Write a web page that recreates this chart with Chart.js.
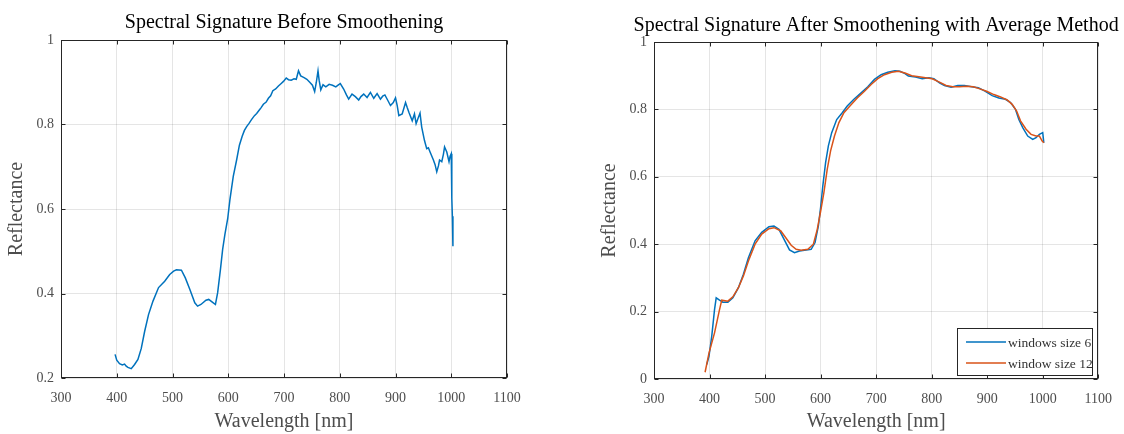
<!DOCTYPE html>
<html>
<head>
<meta charset="utf-8">
<title>Spectral Signature</title>
<script src="https://cdn.jsdelivr.net/npm/chart.js@4.4.0/dist/chart.umd.min.js"></script>
<style>
  body { margin: 0; background: #fff; }
  #wrap { position: relative; width: 1124px; height: 434px; }
  .cell { position: absolute; top: 0; height: 434px; }
</style>
</head>
<body>
<div id="wrap">
  <div class="cell" style="left:0;width:560px"><canvas id="before" width="560" height="434"></canvas></div>
  <div class="cell" style="left:560px;width:564px"><canvas id="after" width="564" height="434"></canvas></div>
</div>
<script>
  // raw spectrum
  const rawWl = [397, 400, 405, 410, 414, 417, 420, 426, 432, 438, 444, 450, 457, 465, 475, 486, 495, 502, 507, 516,
    523, 531, 540, 545, 551, 560, 565, 572, 577, 581, 586, 590, 594, 599, 603, 609, 615, 620, 625, 629,
    633, 637, 642, 647, 651, 655, 659, 663, 668, 672, 676, 680, 685, 690, 695, 699, 704, 708, 713, 718,
    722, 726, 730, 736, 741, 747, 751, 755, 758, 761, 763, 766, 770, 775, 781, 787, 793, 797, 801, 807,
    812, 816, 822, 828, 834, 838, 843, 849, 855, 861, 867, 873, 877, 881, 887, 891, 896, 900, 903, 906,
    912, 918, 921, 924, 930, 934, 937, 940, 944, 947, 952, 956, 959, 962, 968, 971, 974, 977, 979, 983,
    986, 988, 992, 996, 998, 1000, 1001, 1002, 1003];
  const rawRefl = [0.256, 0.242, 0.234, 0.231, 0.233, 0.228, 0.225, 0.222, 0.232, 0.244, 0.270, 0.310, 0.350, 0.382, 0.414, 0.429, 0.445, 0.453, 0.456, 0.455,
    0.437, 0.410, 0.378, 0.370, 0.374, 0.384, 0.386, 0.379, 0.374, 0.402, 0.457, 0.505, 0.540, 0.577, 0.622, 0.677, 0.716, 0.751, 0.772, 0.786,
    0.795, 0.802, 0.812, 0.821, 0.826, 0.833, 0.840, 0.848, 0.853, 0.862, 0.868, 0.880, 0.884, 0.891, 0.897, 0.902, 0.910, 0.906, 0.905, 0.908,
    0.907, 0.927, 0.915, 0.911, 0.907, 0.899, 0.893, 0.878, 0.900, 0.927, 0.905, 0.882, 0.894, 0.889, 0.895, 0.893, 0.889, 0.893, 0.897, 0.884,
    0.870, 0.860, 0.872, 0.866, 0.858, 0.866, 0.872, 0.864, 0.876, 0.862, 0.873, 0.860, 0.867, 0.870, 0.855, 0.845, 0.852, 0.863, 0.845, 0.821,
    0.825, 0.852, 0.840, 0.829, 0.809, 0.825, 0.802, 0.813, 0.827, 0.794, 0.762, 0.743, 0.745, 0.735, 0.716, 0.705, 0.688, 0.702, 0.716, 0.712,
    0.730, 0.747, 0.735, 0.712, 0.725, 0.731, 0.626, 0.583, 0.512];

  // moving average, window 6
  const win6Wl = [395, 399, 404, 409, 412, 418, 424, 433, 442, 452, 461, 470, 482, 494, 507, 516, 525, 534, 544, 553,
    562, 574, 583, 590, 596, 600, 604, 609, 614, 620, 629, 639, 648, 660, 673, 685, 697, 709, 721, 734,
    743, 752, 758, 771, 783, 795, 804, 814, 823, 835, 847, 859, 872, 884, 896, 909, 921, 933, 942, 951,
    957, 964, 973, 982, 988, 994, 1000, 1002];
  const win6Refl = [0.043, 0.067, 0.127, 0.206, 0.241, 0.234, 0.228, 0.228, 0.241, 0.271, 0.311, 0.360, 0.410, 0.435, 0.452, 0.454, 0.444, 0.415, 0.383, 0.375,
    0.380, 0.383, 0.385, 0.405, 0.454, 0.509, 0.573, 0.642, 0.692, 0.731, 0.770, 0.790, 0.810, 0.830, 0.849, 0.867, 0.889, 0.903, 0.910, 0.915,
    0.913, 0.906, 0.899, 0.896, 0.891, 0.894, 0.891, 0.879, 0.871, 0.866, 0.871, 0.871, 0.867, 0.864, 0.854, 0.841, 0.834, 0.830, 0.820, 0.800,
    0.770, 0.746, 0.721, 0.711, 0.716, 0.726, 0.731, 0.701];

  // moving average, window 12
  const win12Wl = [392, 399, 409, 418, 422, 433, 442, 452, 461, 470, 482, 494, 507, 516, 528, 537, 547, 556, 565, 577,
    587, 594, 600, 606, 612, 618, 625, 633, 642, 654, 666, 679, 691, 703, 715, 728, 740, 752, 764, 777,
    789, 801, 814, 826, 838, 850, 863, 875, 887, 899, 912, 924, 936, 945, 953, 960, 970, 979, 988, 994,
    999, 1002];
  const win12Refl = [0.020, 0.077, 0.137, 0.206, 0.234, 0.231, 0.244, 0.271, 0.306, 0.350, 0.400, 0.430, 0.446, 0.449, 0.440, 0.420, 0.397, 0.385, 0.382, 0.385,
    0.400, 0.444, 0.497, 0.554, 0.623, 0.677, 0.721, 0.761, 0.790, 0.812, 0.834, 0.854, 0.874, 0.891, 0.903, 0.910, 0.913, 0.908, 0.900, 0.897,
    0.894, 0.891, 0.881, 0.871, 0.867, 0.867, 0.869, 0.867, 0.861, 0.854, 0.844, 0.837, 0.828, 0.815, 0.795, 0.766, 0.741, 0.726, 0.721, 0.721,
    0.706, 0.701];

  const xTicks = [300, 400, 500, 600, 700, 800, 900, 1000, 1100];
  const yTicksBefore = [0.2, 0.4, 0.6, 0.8, 1];
  const yTicksAfter = [0, 0.2, 0.4, 0.6, 0.8, 1];

  const FONT = '"Liberation Serif", "DejaVu Serif", serif';
  const AXIS_GRAY = '#4d4d4d';

  function toPoints(xs, ys) {
    return xs.map((x, i) => ({ x: x, y: ys[i] }));
  }

  // box, inward ticks, title and legend, matlab style
  const matlabFrame = {
    id: 'matlabFrame',
    afterDraw(chart, args, opts) {
      const ctx = chart.ctx;
      const a = chart.chartArea;
      const sx = chart.scales.x, sy = chart.scales.y;
      const L = Math.round(a.left) + 0.5, R = Math.round(a.right) - 0.5;
      const T = Math.round(a.top) + 0.5, B = Math.round(a.bottom) - 0.5;
      ctx.save();
      ctx.strokeStyle = '#262626';
      ctx.lineWidth = 1;
      ctx.strokeRect(L, T, R - L, B - T);
      ctx.beginPath();
      sx.ticks.forEach(t => {
        const px = Math.round(sx.getPixelForValue(t.value)) + 0.5;
        ctx.moveTo(px, B); ctx.lineTo(px, B - 4);
        ctx.moveTo(px, T); ctx.lineTo(px, T + 4);
      });
      sy.ticks.forEach(t => {
        const py = Math.round(sy.getPixelForValue(t.value)) + 0.5;
        ctx.moveTo(L, py); ctx.lineTo(L + 4, py);
        ctx.moveTo(R, py); ctx.lineTo(R - 4, py);
      });
      ctx.stroke();

      // title
      ctx.fillStyle = '#000';
      ctx.font = '20px ' + FONT;
      ctx.textAlign = 'center';
      ctx.textBaseline = 'alphabetic';
      ctx.fillText(opts.title, (a.left + a.right) / 2, opts.titleY);

      // legend in lower right corner
      if (opts.legend) {
        const lg = opts.legend;
        ctx.fillStyle = '#fff';
        ctx.fillRect(lg.x, lg.y, lg.w, lg.h);
        ctx.strokeStyle = '#262626';
        ctx.strokeRect(lg.x + 0.5, lg.y + 0.5, lg.w, lg.h);
        ctx.font = '13.5px ' + FONT;
        ctx.textAlign = 'left';
        ctx.textBaseline = 'middle';
        chart.data.datasets.forEach((ds, i) => {
          const yy = lg.y + 14 + i * 21;
          ctx.strokeStyle = ds.borderColor;
          ctx.lineWidth = 1.5;
          ctx.beginPath();
          ctx.moveTo(lg.x + 9, yy); ctx.lineTo(lg.x + 49, yy);
          ctx.stroke();
          ctx.fillStyle = '#333';
          ctx.fillText(ds.label, lg.x + 51, yy + 1);
        });
      }
      ctx.restore();
    }
  };

  function makeOptions(cfg) {
    return {
      responsive: false,
      animation: false,
      layout: { padding: { top: cfg.top, right: cfg.right, bottom: 0, left: 0 } },
      plugins: {
        legend: { display: false },
        tooltip: { enabled: false },
        matlabFrame: { title: cfg.title, titleY: cfg.titleY, legend: cfg.legend }
      },
      scales: {
        x: {
          type: 'linear', min: 300, max: 1100,
          afterBuildTicks: s => { s.ticks = xTicks.map(v => ({ value: v })); },
          afterFit: s => { s.height = cfg.xHeight; },
          grid: { color: 'rgba(0,0,0,0.1)', drawTicks: false },
          border: { display: false },
          ticks: { padding: 12, autoSkip: false, maxRotation: 0, color: AXIS_GRAY, font: { family: FONT, size: 14 },
            callback: v => String(v) },
          title: { display: true, text: 'Wavelength [nm]', color: AXIS_GRAY, font: { family: FONT, size: 20 },
            padding: { top: 0, bottom: 0 } }
        },
        y: {
          type: 'linear', min: cfg.yTicks[0], max: 1,
          afterBuildTicks: s => { s.ticks = cfg.yTicks.map(v => ({ value: v })); },
          afterFit: s => { s.width = cfg.yWidth; },
          grid: { color: 'rgba(0,0,0,0.1)', drawTicks: false },
          border: { display: false },
          ticks: { padding: 7, color: AXIS_GRAY, font: { family: FONT, size: 14 }, callback: v => String(v) },
          title: { display: true, text: 'Reflectance', color: AXIS_GRAY, font: { family: FONT, size: 20 },
            padding: { top: cfg.yTitlePad, bottom: 0 } }
        }
      }
    };
  }

  new Chart(document.getElementById('before'), {
    type: 'scatter',
    data: {
      datasets: [{
        label: 'raw',
        data: toPoints(rawWl, rawRefl),
        showLine: true, borderColor: '#0072BD', borderWidth: 1.5, pointRadius: 0, tension: 0
      }]
    },
    options: makeOptions({ top: 40, right: 53, xHeight: 56, yWidth: 61, yTitlePad: 5,
      yTicks: yTicksBefore, title: 'Spectral Signature Before Smoothening', titleY: 28 }),
    plugins: [matlabFrame]
  });

  new Chart(document.getElementById('after'), {
    type: 'scatter',
    data: {
      datasets: [
        { label: 'windows size 6', data: toPoints(win6Wl, win6Refl), order: 1,
          showLine: true, borderColor: '#0072BD', borderWidth: 1.5, pointRadius: 0, tension: 0 },
        { label: 'window size 12', data: toPoints(win12Wl, win12Refl), order: 0,
          showLine: true, borderColor: '#D95319', borderWidth: 1.5, pointRadius: 0, tension: 0 }
      ]
    },
    options: makeOptions({ top: 42, right: 23, xHeight: 55, yWidth: 94, yTitlePad: 38,
      yTicks: yTicksAfter, title: 'Spectral Signature After Smoothening with Average Method', titleY: 31,
      legend: { x: 397, y: 328, w: 135, h: 47 } }),
    plugins: [matlabFrame]
  });
</script>
</body>
</html>
